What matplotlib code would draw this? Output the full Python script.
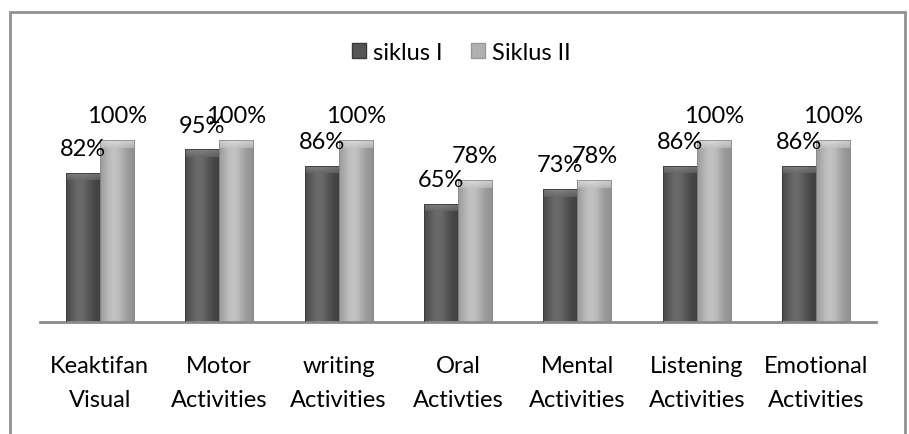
import numpy as np
import matplotlib.pyplot as plt
from matplotlib.colors import to_rgb
from matplotlib.patches import Rectangle

plt.rcParams['font.family'] = ['Lato', 'DejaVu Sans']

categories = ['Keaktifan\nVisual', 'Motor\nActivities', 'writing\nActivities',
              'Oral\nActivties', 'Mental\nActivities', 'Listening\nActivities',
              'Emotional\nActivities']
siklus_1 = [0.82, 0.95, 0.86, 0.65, 0.73, 0.86, 0.86]
siklus_2 = [1.00, 1.00, 1.00, 0.78, 0.78, 1.00, 1.00]
series_names = ['siklus I', 'Siklus II']


def shade_bars(ax, bars, edge, mid):
    # horizontal gradient: darker at the sides, lighter just left of centre
    t = np.linspace(0, 1, 64)
    w = np.exp(-((t - 0.4) / 0.35) ** 2)
    edge = np.array(to_rgb(edge))
    mid = np.array(to_rgb(mid))
    grad = (edge[None, :] * (1 - w[:, None]) + mid[None, :] * w[:, None])[None, :, :]
    top = np.clip(mid + 0.15, 0, 1)
    capgrad = np.linspace(0, 1, 16)[:, None, None] * (top - mid) + mid
    for b in bars:
        x0, bw_, h = b.get_x(), b.get_width(), b.get_height()
        im = ax.imshow(grad, extent=[x0, x0 + bw_, 0, h], aspect='auto',
                       zorder=2, interpolation='bilinear')
        im.set_clip_path(b)
        # bevelled top cap
        cap = ax.imshow(capgrad, extent=[x0, x0 + bw_, h - 0.04, h],
                        aspect='auto', origin='lower', zorder=2.5,
                        interpolation='bilinear', alpha=0.7)
        cap.set_clip_path(b)
        b.set_facecolor('none')


fig = plt.figure(figsize=(9.09, 4.35), dpi=100)
ax = fig.add_axes([40 / 909, 1 - 323 / 435, 836 / 909, 218 / 435])

x = np.arange(len(categories))
bw = 0.285
b1 = ax.bar(x - bw / 2, siklus_1, bw, color='#555555', edgecolor='#3a3a3a', lw=0.6, zorder=3)
b2 = ax.bar(x + bw / 2, siklus_2, bw, color='#a8a8a8', edgecolor='#8a8a8a', lw=0.6, zorder=3)
shade_bars(ax, b1, '#3e3e3e', '#6a6a6a')
shade_bars(ax, b2, '#8e8e8e', '#c2c2c2')

for bars, vals in ((b1, siklus_1), (b2, siklus_2)):
    for b, v in zip(bars, vals):
        ax.annotate(f'{v * 100:.0f}%', (b.get_x() + b.get_width() / 2, v),
                    xytext=(0, 10), textcoords='offset points',
                    ha='center', va='bottom', fontsize=17, color='black')

ax.set_xlim(-0.5, len(categories) - 0.5)
ax.set_ylim(0, 1.2)
ax.set_yticks([])
ax.set_xticks(x)
ax.set_xticklabels(categories, fontsize=17, linespacing=1.75)
ax.tick_params(axis='x', length=0, pad=24)
for s in ('top', 'right', 'left'):
    ax.spines[s].set_visible(False)
ax.spines['bottom'].set_color('#8a8a8a')
ax.spines['bottom'].set_linewidth(2)

handles = [Rectangle((0, 0), 1, 1, fc='#555555', ec='#3a3a3a'),
           Rectangle((0, 0), 1, 1, fc='#b0b0b0', ec='#999999')]
fig.legend(handles, series_names, loc='center', bbox_to_anchor=(461 / 909, 1 - 53 / 435),
           ncol=2, frameon=False, fontsize=17, handlelength=0.6, handleheight=0.6,
           handletextpad=0.3, columnspacing=1.2)

fig.add_artist(Rectangle((10 / 909, -0.05), 895 / 909, 1.05 - 13 / 435,
                         transform=fig.transFigure, fill=False,
                         ec='#909090', lw=2))

fig.savefig('out.png', dpi=100)
